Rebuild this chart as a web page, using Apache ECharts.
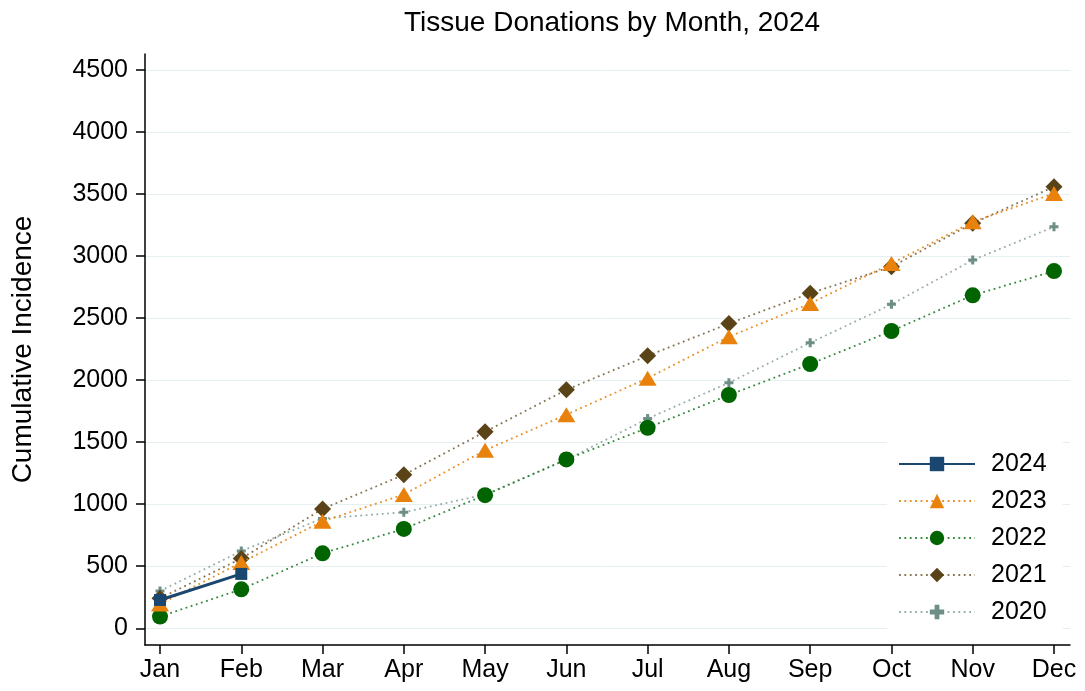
<!DOCTYPE html>
<html>
<head>
<meta charset="utf-8">
<script src="https://cdn.jsdelivr.net/npm/echarts@6/dist/echarts.min.js"></script>
<style>
html,body{margin:0;padding:0;background:#fff;}
#chart{width:1085px;height:691px;}
</style>
</head>
<body>
<div id="chart"></div>
<script>
const months = ['Jan','Feb','Mar','Apr','May','Jun','Jul','Aug','Sep','Oct','Nov','Dec'];
const monthNums = [1,2,3,4,5,6,7,8,9,10,11,12];
const yTicks = [0,500,1000,1500,2000,2500,3000,3500,4000,4500];
const y2024 = [228, 438];
const y2023 = [195, 530, 862, 1078, 1435, 1722, 2016, 2350, 2618, 2940, 3276, 3505];
const y2022 = [94, 314, 604, 801, 1073, 1361, 1616, 1880, 2130, 2396, 2684, 2879];
const y2021 = [242, 562, 962, 1237, 1584, 1922, 2196, 2456, 2700, 2914, 3264, 3559];
const y2020 = [300, 622, 885, 935, 1078, 1358, 1690, 1979, 2301, 2611, 2968, 3236];

const FONT = '"Liberation Sans", Arial, sans-serif';
const pair = arr => arr.map((v, i) => [monthNums[i], v]);
const plusPath = 'path://M3,0H6V3H9V6H6V9H3V6H0V3H3Z';

const dotted = (color) => ({ color: color, width: 1.8, type: [1.8, 3.6], cap: 'butt', opacity: 0.9 });

const chart = echarts.init(document.getElementById('chart'), null, { renderer: 'canvas' });
chart.setOption({
  animation: false,
  backgroundColor: '#ffffff',
  title: {
    text: 'Tissue Donations by Month, 2024',
    left: 607,
    textAlign: 'center',
    top: 4,
    textStyle: { fontFamily: FONT, fontSize: 28, fontWeight: 'normal', color: '#000' }
  },
  grid: { left: 145, right: 15, top: 54, bottom: 46, containLabel: false },
  xAxis: {
    type: 'value',
    min: 0.8154,
    max: 12.197,
    axisLine: { show: true, onZero: false, lineStyle: { color: '#000', width: 1.5 } },
    axisTick: { show: true, length: 9, lineStyle: { color: '#000', width: 1.5 }, customValues: monthNums },
    axisLabel: {
      customValues: monthNums,
      formatter: v => months[Math.round(v) - 1] || '',
      fontFamily: FONT, fontSize: 25, color: '#000', margin: 13
    },
    splitLine: { show: false }
  },
  yAxis: {
    type: 'value',
    min: -135,
    max: 4629,
    name: 'Cumulative Incidence',
    nameLocation: 'middle',
    nameGap: 108,
    nameTextStyle: { fontFamily: FONT, fontSize: 28, color: '#000' },
    axisLine: { show: true, onZero: false, lineStyle: { color: '#000', width: 1.5 } },
    axisTick: { show: true, length: 9, lineStyle: { color: '#000', width: 1.5 }, customValues: yTicks },
    axisLabel: { customValues: yTicks, formatter: v => String(v), fontFamily: FONT, fontSize: 25, color: '#000', margin: 17 },
    splitLine: { show: true, lineStyle: { color: '#e6eff1', width: 1 } }
  },
  legend: {
    orient: 'vertical',
    left: 887,
    top: 440,
    backgroundColor: '#ffffff',
    padding: [11, 16, 15, 11],
    itemGap: 11,
    itemWidth: 76,
    itemHeight: 18,
    data: ['2024', '2023', '2022', '2021', '2020'],
    textStyle: { fontFamily: FONT, fontSize: 25, color: '#000', lineHeight: 26, padding: [0, 0, 0, 11] }
  },
  series: [
    {
      name: '2024', type: 'line', z: 7, data: pair(y2024),
      symbol: 'rect', symbolSize: 12,
      itemStyle: { color: '#1a476f' },
      lineStyle: { color: '#1a476f', width: 3 }
    },
    {
      name: '2023', type: 'line', z: 6, data: pair(y2023),
      symbol: 'triangle', symbolSize: [18, 15],
      itemStyle: { color: '#e8820c' },
      lineStyle: dotted('#e8820c')
    },
    {
      name: '2022', type: 'line', z: 5, data: pair(y2022),
      symbol: 'circle', symbolSize: 16,
      itemStyle: { color: '#006400' },
      lineStyle: dotted('#1f7a2a')
    },
    {
      name: '2021', type: 'line', z: 4, data: pair(y2021),
      symbol: 'diamond', symbolSize: 17,
      itemStyle: { color: '#5a4417' },
      lineStyle: dotted('#7a6440')
    },
    {
      name: '2020', type: 'line', z: 3, data: pair(y2020),
      symbol: plusPath, symbolSize: 9,
      itemStyle: { color: '#6e8f86' },
      lineStyle: dotted('#8aa59e')
    }
  ]
});
</script>
</body>
</html>
